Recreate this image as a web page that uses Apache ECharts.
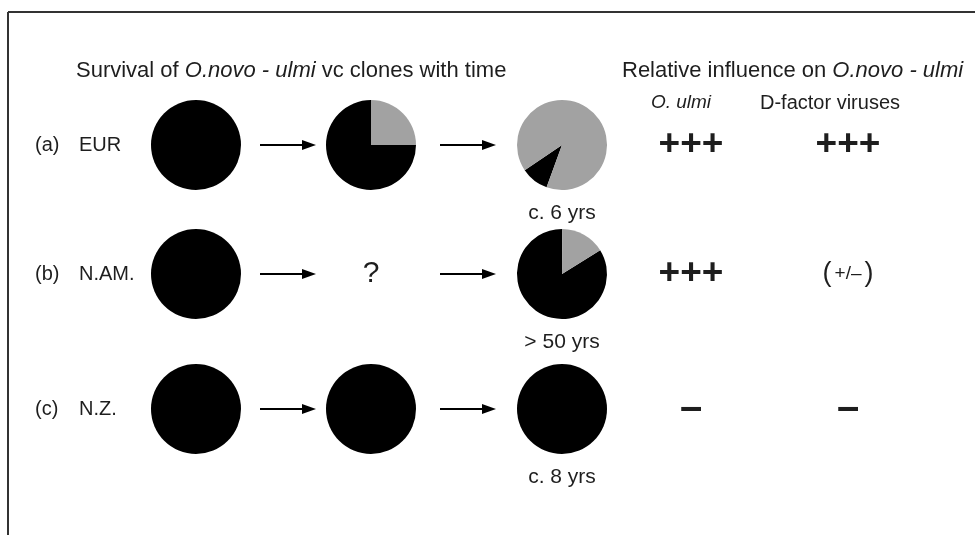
<!DOCTYPE html>
<html>
<head>
<meta charset="utf-8">
<title>O.novo-ulmi vc clones</title>
<script src="https://cdn.jsdelivr.net/npm/echarts@6/dist/echarts.min.js"></script>
<style>
  html, body { margin: 0; padding: 0; background: #fff; }
  #chart { width: 975px; height: 535px; }
</style>
</head>
<body>
<div id="chart"></div>
<script>
// rows of the figure
const rowTags = ['(a)', '(b)', '(c)']
const regions = ['EUR', 'N.AM.', 'N.Z.']
// share of the clone still present (black slice), one value per stage; null = unknown
const eurShare = [100, 75, 10]
const namShare = [100, null, 84]
const nzShare = [100, 100, 100]
const timeLabels = ['c. 6 yrs', '> 50 yrs', 'c. 8 yrs']
const ulmiInfluence = ['+++', '+++', '–']
const virusInfluence = ['+++', '(+/–)', '–']

const shares = [eurShare, namShare, nzShare]

// layout
const rowY = [145, 274, 409]
const colX = [196, 371, 562]
const arrowX = [[260, 316], [440, 496]]
const startAngles = [[90, 0, 250], [90, 90, 32], [90, 90, 90]]
const ulmiX = 691
const virusX = 848
const BLACK = '#000'
const GREY = '#a2a2a2'
const TEXT = '#1e1e1e'
const FONT = "'Liberation Sans', Arial, sans-serif"

const txt = (x, y, text, size, extra) => ({
  type: 'text',
  x: x,
  y: y,
  silent: true,
  style: Object.assign({
    text: text,
    fill: TEXT,
    font: size + 'px ' + FONT,
    align: 'center',
    verticalAlign: 'middle',
    textAlign: 'center',
    textVerticalAlign: 'middle'
  }, extra || {})
})

const arrow = (x1, x2, y) => ({
  type: 'group',
  silent: true,
  children: [
    { type: 'line', shape: { x1: x1, y1: y, x2: x2 - 8, y2: y }, style: { stroke: BLACK, lineWidth: 2 } },
    { type: 'polygon', shape: { points: [[x2, y], [x2 - 14, y - 5], [x2 - 14, y + 5]] }, style: { fill: BLACK } }
  ]
})

const series = []
const graphics = []

// frame
graphics.push({ type: 'line', silent: true, shape: { x1: 8, y1: 12, x2: 975, y2: 12 }, style: { stroke: '#333', lineWidth: 2 } })
graphics.push({ type: 'line', silent: true, shape: { x1: 8, y1: 12, x2: 8, y2: 535 }, style: { stroke: '#333', lineWidth: 2 } })

// headings
const italic = { fontStyle: 'italic', fontSize: 22, fontFamily: FONT, fill: TEXT, color: TEXT }
graphics.push(txt(76, 71, 'Survival of {i|O.novo - ulmi} vc clones with time', 22, {
  align: 'left', textAlign: 'left', rich: { i: italic }
}))
graphics.push(txt(622, 71, 'Relative influence on {i|O.novo - ulmi}', 22, {
  align: 'left', textAlign: 'left', rich: { i: italic }
}))
graphics.push(txt(681, 103, 'O. ulmi', 19, { font: 'italic 19px ' + FONT }))
graphics.push(txt(830, 103, 'D-factor viruses', 20))

shares.forEach((row, r) => {
  const y = rowY[r]
  graphics.push(txt(35, y, rowTags[r], 20, { align: 'left', textAlign: 'left' }))
  graphics.push(txt(79, y, regions[r], 20, { align: 'left', textAlign: 'left' }))

  row.forEach((v, c) => {
    if (v === null) {
      graphics.push(txt(colX[c], y, '?', 30))
      return
    }
    series.push({
      type: 'pie',
      center: [colX[c], y],
      radius: 45,
      startAngle: startAngles[r][c],
      clockwise: true,
      silent: true,
      animation: false,
      label: { show: false },
      labelLine: { show: false },
      itemStyle: { borderWidth: 0 },
      data: [
        { value: v, itemStyle: { color: BLACK } },
        { value: 100 - v, itemStyle: { color: GREY } }
      ]
    })
  })

  arrowX.forEach(a => graphics.push(arrow(a[0], a[1], y)))
  graphics.push(txt(colX[2], y + 68, timeLabels[r], 21))

  const sym = (x, s) => {
    if (s === '+++') return txt(x, y, s, 37, { font: 'bold 37px ' + FONT })
    if (s === '–') return txt(x, y, s, 40, { font: 'bold 40px ' + FONT })
    return txt(x, y, '{p|(}{s|+/–}{p|)}', 24, {
      rich: {
        p: { fontSize: 27, fontFamily: FONT, fill: TEXT, padding: [0, 3] },
        s: { fontSize: 19, fontFamily: FONT, fill: TEXT }
      }
    })
  }
  graphics.push(sym(ulmiX, ulmiInfluence[r]))
  graphics.push(sym(virusX, virusInfluence[r]))
})

const chart = echarts.init(document.getElementById('chart'))
chart.setOption({
  backgroundColor: '#fff',
  animation: false,
  series: series,
  graphic: graphics
})
</script>
</body>
</html>
